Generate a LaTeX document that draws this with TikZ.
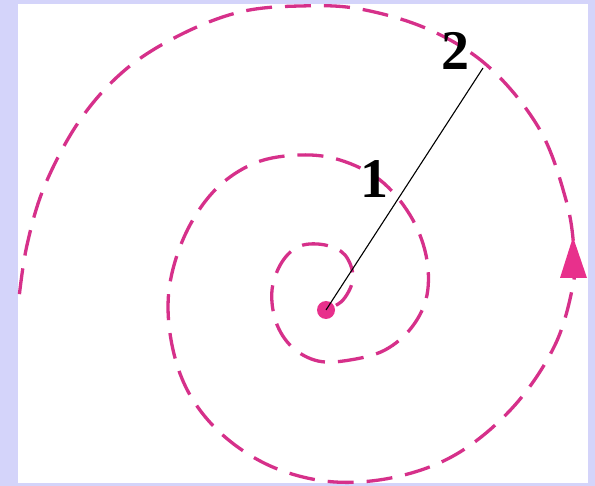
\documentclass[tikz,border=0pt]{standalone}
\usepackage{fontspec}
\setmainfont{Liberation Serif}
\definecolor{lav}{RGB}{212,212,250}
\definecolor{spir}{RGB}{214,48,138}
\definecolor{dotc}{RGB}{232,48,140}
\begin{document}
\begin{tikzpicture}[x=1pt,y=-1pt,
  spiral/.style={draw=spir,line width=3.3pt,dash pattern=on 26pt off 13pt,dash phase=28pt},
  lab/.style={font=\fontsize{56}{60}\selectfont\bfseries,inner sep=0pt}]
\useasboundingbox (0,0) rectangle (595,486);
\fill[lav] (0,0) rectangle (595,486);
\fill[white] (18,4) rectangle (588,483);
\draw[spiral] plot[smooth,tension=0.6] coordinates {
(326,310) (343,300) (353,278) (345,255) (325,245) (300,246) (282,262)
(272,290) (276,322) (292,347) (318,361) (350,360) (385,350) (412,327)
(427,295) (426,255) (410,215) (380,180) (340,160) (300,155) (255,163)
(215,190) (185,235) (169,290) (172,345) (190,395) (225,437) (275,468)
(335,482) (400,476) (460,452) (515,405) (555,345) (573,285) (574,250)
(566,200) (540,130) (490,68) (430,30) (360,9) (300,6) (240,12)
(180,35) (125,70) (80,120) (45,185) (27,245) (19,298)};
\fill[dotc] (573,237) -- (560,278) -- (587,278) -- cycle;
\node[circle,fill=dotc,minimum size=18pt,inner sep=0pt] (dot) at (326,310) {};
\coordinate (p2) at (483,68);
\draw[line width=1.1pt] (dot.center) -- (p2);
\node[lab] (l1) at (374,179) {1};
\node[lab] (l2) at (455,51) {2};
\end{tikzpicture}
\end{document}
